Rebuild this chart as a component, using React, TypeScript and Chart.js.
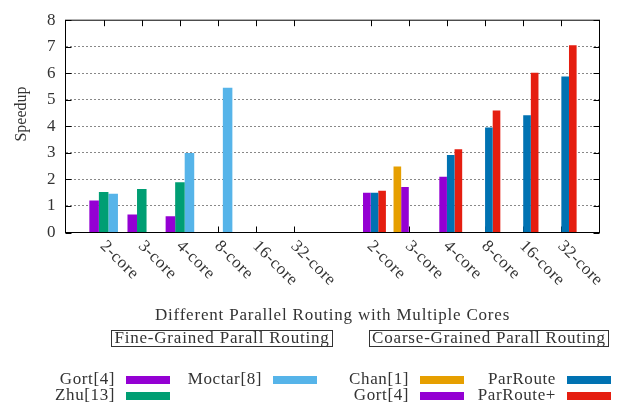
import React, { useEffect, useRef } from "react";
import { Chart, registerables } from "chart.js";

Chart.register(...registerables);

// ---------- data ----------
const coreLabels = ["2-core", "3-core", "4-core", "8-core", "16-core", "32-core"];
const slotLabels = ["", ...coreLabels, "", ...coreLabels, ""];

// Fine-grained group (0 = no bar drawn)
const gortFine = [1.21, 0.68, 0.61, 0, 0, 0];
const zhuFine = [1.53, 1.64, 1.89, 0, 0, 0];
const moctarFine = [1.46, 0, 3.0, 5.45, 0, 0];

// Coarse-grained group
const chanCoarse = [0, 2.49, 0, 0, 0, 0];
const gortCoarse = [1.5, 1.71, 2.1, 0, 0, 0];
const parRoute = [1.5, 0, 2.92, 3.96, 4.42, 5.88];
const parRoutePlus = [1.57, 0, 3.14, 4.6, 6.02, 7.06];

const yTickValues = [0, 1, 2, 3, 4, 5, 6, 7, 8];
const yTitle = "Speedup";
const xTitle = "Different Parallel Routing with Multiple Cores";
const groupTitles = ["Fine-Grained Parall Routing", "Coarse-Grained Parall Routing"];

// ---------- styling ----------
const FONT_FAMILY = "'Liberation Serif', 'Times New Roman', serif";
const TEXT_COLOR = "#333";

const empty = coreLabels.map(() => null);
const fineRow = (v: (number | null)[]) => [null, ...v, null, ...empty, null];
const coarseRow = (v: (number | null)[]) => [null, ...empty, null, ...v, null];

const gnuplotPlugin = {
  id: "gnuplotDecor",
  beforeDatasetsDraw(chart: any) {
    const { ctx, chartArea: a, scales } = chart;
    const xs = scales.x;
    ctx.save();
    ctx.strokeStyle = "#000";
    ctx.lineWidth = 1;
    slotLabels.forEach((lab, i) => {
      if (!lab) return;
      const px = Math.round(xs.getPixelForValue(i)) + 0.5;
      ctx.beginPath();
      ctx.moveTo(px, a.bottom);
      ctx.lineTo(px, a.bottom - 6);
      ctx.stroke();
    });
    ctx.restore();
  },
  afterDraw(chart: any) {
    const { ctx, chartArea: a, scales } = chart;
    const xs = scales.x;
    const ys = scales.y;
    ctx.save();
    ctx.strokeStyle = "#000";
    ctx.lineWidth = 1;
    // top tick marks
    slotLabels.forEach((lab, i) => {
      if (!lab) return;
      const px = Math.round(xs.getPixelForValue(i)) + 0.5;
      ctx.beginPath();
      ctx.moveTo(px, a.top);
      ctx.lineTo(px, a.top + 6);
      ctx.stroke();
    });
    // y tick marks left & right
    yTickValues.forEach((v) => {
      const py = Math.round(ys.getPixelForValue(v)) + 0.5;
      ctx.beginPath();
      ctx.moveTo(a.left, py);
      ctx.lineTo(a.left + 6, py);
      ctx.moveTo(a.right, py);
      ctx.lineTo(a.right - 6, py);
      ctx.stroke();
    });
    // border
    ctx.strokeRect(a.left, a.top, a.right - a.left, a.bottom - a.top);

    ctx.fillStyle = TEXT_COLOR;
    (ctx as any).letterSpacing = "0.6px";
    ctx.font = `17px ${FONT_FAMILY}`;

    // x tick labels rotated clockwise
    slotLabels.forEach((lab, i) => {
      if (!lab) return;
      const px = xs.getPixelForValue(i);
      ctx.save();
      ctx.translate(px - 1, a.bottom + 11);
      ctx.rotate(Math.PI / 4);
      ctx.textAlign = "left";
      ctx.textBaseline = "middle";
      ctx.fillText(lab, 0, 0);
      ctx.restore();
    });

    // y title
    ctx.save();
    (ctx as any).letterSpacing = "0px";
    ctx.font = `16px ${FONT_FAMILY}`;
    ctx.translate(21.5, 114);
    ctx.rotate(-Math.PI / 2);
    ctx.textAlign = "center";
    ctx.textBaseline = "middle";
    ctx.fillText(yTitle, 0, 0);
    ctx.restore();

    // x title
    (ctx as any).letterSpacing = "0.8px";
    ctx.textAlign = "center";
    ctx.textBaseline = "middle";
    ctx.fillText(xTitle, (a.left + a.right) / 2, 316);

    // group title boxes
    const boxes = [
      { x0: 111.5, x1: 332.5 },
      { x0: 369.5, x1: 608.5 },
    ];
    boxes.forEach((b, k) => {
      ctx.strokeStyle = "#333";
      ctx.strokeRect(b.x0, 330.5, b.x1 - b.x0, 16);
      ctx.fillText(groupTitles[k], (b.x0 + b.x1) / 2, 339);
    });

    // legend
    (ctx as any).letterSpacing = "0.6px";
    ctx.textAlign = "right";
    const colEnds = [115, 262, 409, 556];
    const rowYs = [380, 396];
    const ds = chart.data.datasets;
    const fine = ds.filter((d: any) => d.group === "fine");
    const coarse = ds.filter((d: any) => d.group === "coarse");
    const place = (list: any[], colOffset: number) => {
      list.forEach((d, k) => {
        const col = colOffset + Math.floor(k / 2);
        const row = k % 2;
        const xe = colEnds[col];
        const y = rowYs[row];
        ctx.fillStyle = TEXT_COLOR;
        ctx.fillText(d.label, xe, y);
        ctx.fillStyle = d.backgroundColor;
        ctx.fillRect(xe + 11, y - 4, 44, 8);
      });
    };
    place(fine, 0);
    place(coarse, 2);
    ctx.restore();
  },
};

export default function App() {
  const ref = useRef<HTMLCanvasElement | null>(null);
  useEffect(() => {
    document.body.style.margin = "0";
    const canvas = ref.current;
    if (!canvas) return;
    const fineOpts = { group: "fine", categoryPercentage: 0.75, barPercentage: 1, borderWidth: 0, skipNull: true };
    const coarseOpts = { group: "coarse", categoryPercentage: 0.8, barPercentage: 1, borderWidth: 0, skipNull: true };
    const chart = new Chart(canvas, {
      type: "bar",
      data: {
        labels: slotLabels,
        datasets: [
          { label: "Gort[4]", data: fineRow(gortFine), backgroundColor: "#9400d3", ...fineOpts },
          { label: "Zhu[13]", data: fineRow(zhuFine), backgroundColor: "#009e73", ...fineOpts },
          { label: "Moctar[8]", data: fineRow(moctarFine), backgroundColor: "#56b4e9", ...fineOpts },
          { label: "Chan[1]", data: coarseRow(chanCoarse), backgroundColor: "#e69f00", ...coarseOpts },
          { label: "Gort[4]", data: coarseRow(gortCoarse), backgroundColor: "#9400d3", ...coarseOpts },
          { label: "ParRoute", data: coarseRow(parRoute), backgroundColor: "#0072b2", ...coarseOpts },
          { label: "ParRoute+", data: coarseRow(parRoutePlus), backgroundColor: "#e51e10", ...coarseOpts },
        ] as any,
      },
      options: {
        animation: false,
        responsive: false,
        maintainAspectRatio: false,
        layout: { padding: { top: 7.5, right: 18.5, bottom: 178.5, left: 0 } },
        plugins: { legend: { display: false }, tooltip: { enabled: false }, title: { display: false } },
        scales: {
          x: {
            type: "category",
            offset: false,
            grid: { display: false, drawTicks: false },
            border: { display: false },
            ticks: { display: false },
          },
          y: {
            min: 0,
            max: 8,
            stacked: false,
            afterFit: (s: any) => {
              s.width = 65.5;
            },
            afterBuildTicks: (s: any) => {
              s.ticks = yTickValues.map((v) => ({ value: v }));
            },
            ticks: {
              font: { family: FONT_FAMILY, size: 17 },
              color: TEXT_COLOR,
              padding: 10,
            },
            grid: {
              drawTicks: false,
              lineWidth: 1,
              color: (c: any) =>
                c.tick && (c.tick.value === 0 || c.tick.value === 8) ? "rgba(0,0,0,0)" : "#888",
            },
            border: { display: false, dash: [2, 2] },
          },
        },
      } as any,
      plugins: [gnuplotPlugin],
    });
    return () => chart.destroy();
  }, []);
  return (
    <div style={{ position: "relative", width: 618, height: 411 }}>
      <canvas ref={ref} width={618} height={411} style={{ width: 618, height: 411, display: "block" }} />
    </div>
  );
}
